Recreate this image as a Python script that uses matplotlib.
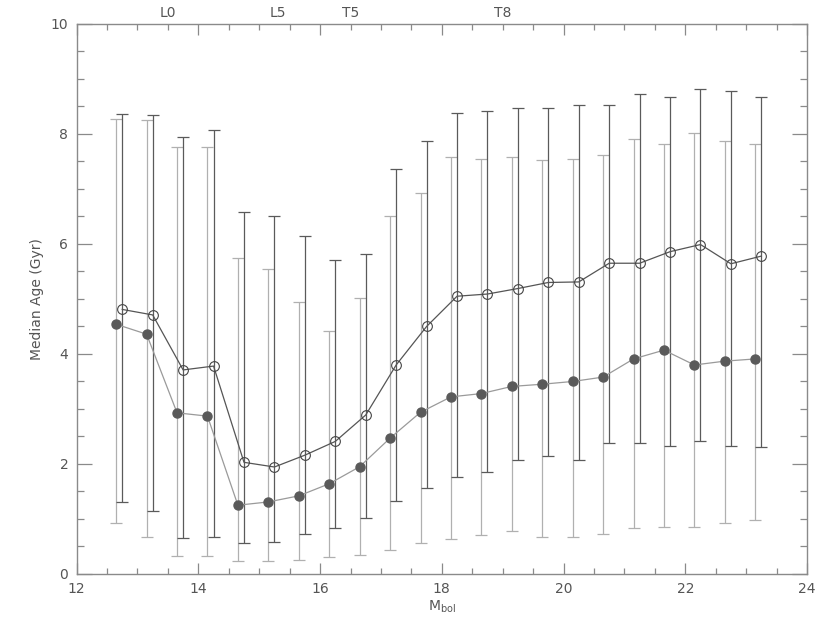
import numpy as np
import matplotlib
matplotlib.use("Agg")
import matplotlib.pyplot as plt
from matplotlib.ticker import MultipleLocator

# Data
mbol = [12.75, 13.25, 13.75, 14.25, 14.75, 15.25, 15.75, 16.25, 16.75, 17.25, 17.75,
        18.25, 18.75, 19.25, 19.75, 20.25, 20.75, 21.25, 21.75, 22.25, 22.75, 23.25]

open_median = [4.81, 4.71, 3.71, 3.78, 2.03, 1.945, 2.16, 2.41, 2.89, 3.80, 4.50,
               5.05, 5.09, 5.19, 5.30, 5.31, 5.65, 5.65, 5.86, 5.99, 5.64, 5.78]
open_upper = [8.36, 8.34, 7.95, 8.07, 6.58, 6.50, 6.15, 5.70, 5.82, 7.36, 7.88,
              8.39, 8.41, 8.48, 8.47, 8.52, 8.52, 8.73, 8.67, 8.81, 8.78, 8.68]
open_lower = [1.31, 1.15, 0.65, 0.68, 0.56, 0.59, 0.72, 0.84, 1.01, 1.32, 1.56,
              1.76, 1.85, 2.07, 2.15, 2.08, 2.38, 2.39, 2.32, 2.41, 2.33, 2.31]

filled_median = [4.54, 4.36, 2.93, 2.87, 1.25, 1.31, 1.42, 1.64, 1.95, 2.47, 2.94,
                 3.22, 3.28, 3.41, 3.45, 3.50, 3.58, 3.91, 4.07, 3.80, 3.87, 3.91]
filled_upper = [8.27, 8.25, 7.76, 7.76, 5.74, 5.54, 4.94, 4.41, 5.01, 6.50, 6.93,
                7.59, 7.54, 7.58, 7.52, 7.54, 7.61, 7.90, 7.82, 8.02, 7.87, 7.81]
filled_lower = [0.92, 0.67, 0.33, 0.32, 0.24, 0.23, 0.25, 0.30, 0.35, 0.44, 0.56,
                0.63, 0.70, 0.79, 0.67, 0.68, 0.72, 0.83, 0.85, 0.85, 0.92, 0.99]

spt_labels = ["L0", "L5", "T5", "T8"]
spt_mbol = [13.5, 15.3, 16.5, 19.0]

# Styles
FILLED_OFFSET = -0.1
dark = "#5a5a5a"
light = "#b0b0b0"
txt = "#555555"
spine = "#8a8a8a"

fig = plt.figure(figsize=(8.30, 6.23), dpi=100)
ax = fig.add_axes([0.0923, 0.0787, 0.8800, 0.8828])

x = np.array(mbol)
xf = x + FILLED_OFFSET

om = np.array(open_median)
fm = np.array(filled_median)
oerr = [om - np.array(open_lower), np.array(open_upper) - om]
ferr = [fm - np.array(filled_lower), np.array(filled_upper) - fm]

ax.errorbar(xf, fm, yerr=ferr, fmt="none", ecolor=light, elinewidth=0.9,
            capsize=4.3, capthick=0.9, zorder=2)
ax.errorbar(x, om, yerr=oerr, fmt="none", ecolor=dark, elinewidth=0.9,
            capsize=4.3, capthick=0.9, zorder=2)

ax.plot(xf, fm, color="#9a9a9a", lw=0.9, zorder=3)
ax.plot(xf, fm, "o", color="#5a5a5a", ms=6.5, mec="#5a5a5a", zorder=4)
ax.plot(x, om, color="#555555", lw=0.9, zorder=3)
ax.plot(x, om, "o", mfc="none", mec="#444444", mew=0.8, ms=7, zorder=4)

ax.set_xlim(12, 24)
ax.set_ylim(0, 10)
ax.xaxis.set_major_locator(MultipleLocator(2))
ax.xaxis.set_minor_locator(MultipleLocator(0.5))
ax.yaxis.set_major_locator(MultipleLocator(2))
ax.yaxis.set_minor_locator(MultipleLocator(0.5))

for s in ax.spines.values():
    s.set_color(spine)
    s.set_linewidth(1.0)

ax.tick_params(axis="x", which="major", direction="in", length=8, width=0.9,
               color=spine, top=True, labelsize=10, labelcolor=txt, pad=6)
ax.tick_params(axis="x", which="minor", direction="in", length=4.3, width=0.9,
               color=spine, top=True)
ax.tick_params(axis="y", which="major", direction="in", length=11, width=0.9,
               color=spine, right=True, labelsize=10, labelcolor=txt, pad=6)
ax.tick_params(axis="y", which="minor", direction="in", length=5, width=0.9,
               color=spine, right=True)

ax.set_xlabel(r"M$_{\rm bol}$", fontsize=10, color=txt, labelpad=2)
ax.set_ylabel("Median Age (Gyr)", fontsize=10, color=txt, labelpad=5)

sec = ax.secondary_xaxis("top")
sec.set_xticks(spt_mbol)
sec.set_xticklabels(spt_labels)
sec.tick_params(length=0, labelsize=10, labelcolor=txt, pad=3)
sec.spines["top"].set_visible(False)

fig.savefig("out.png", dpi=100)
